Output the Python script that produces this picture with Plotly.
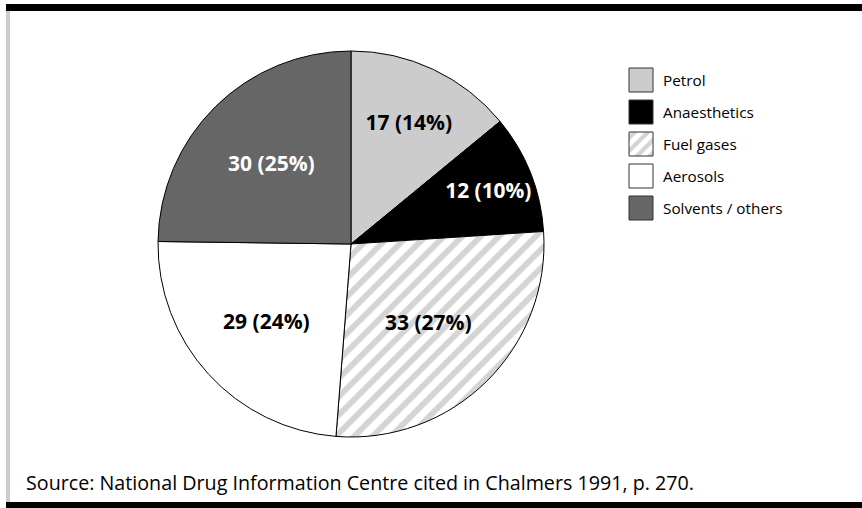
import plotly.graph_objects as go

W, H = 862, 508

categories = ["Petrol", "Anaesthetics", "Fuel gases", "Aerosols", "Solvents / others"]
values = [17, 12, 33, 29, 30]
fill_colors = ["#cccccc", "#000000", "#ffffff", "#ffffff", "#666666"]
pattern_shapes = ["", "", "/", "", ""]
label_colors = ["#000000", "#ffffff", "#000000", "#000000", "#ffffff"]
source_text = "Source: National Drug Information Centre cited in Chalmers 1991, p. 270."

FONT = "Open Sans"
HATCH = "#d4d4d4"


def px(x):
    return x / W


def py(y):
    return 1 - y / H


# pie geometry (pixels)
cx, cy, r = 351, 244, 193

fig = go.Figure()
fig.add_trace(go.Pie(
    labels=categories,
    values=values,
    sort=False,
    direction="clockwise",
    rotation=0,
    marker=dict(
        colors=fill_colors,
        line=dict(color="#000000", width=1),
        pattern=dict(shape=pattern_shapes, fgcolor=HATCH, bgcolor="#ffffff",
                     size=13, solidity=0.45, fillmode="replace"),
    ),
    texttemplate="%{value} (%{percent:.0%})",
    textposition="inside",
    insidetextorientation="horizontal",
    textfont=dict(family=FONT, size=21, color=label_colors, weight="bold"),
    hoverinfo="label+value+percent",
    showlegend=False,
    domain=dict(x=[px(cx - r), px(cx + r)], y=[py(cy + r), py(cy - r)]),
))

shapes = []
# frame
shapes.append(dict(type="rect", xref="paper", yref="paper", x0=px(6), x1=px(W), y0=py(11), y1=py(4),
                   fillcolor="#000000", line=dict(width=0), layer="above"))
shapes.append(dict(type="rect", xref="paper", yref="paper", x0=px(6), x1=px(W), y0=py(H), y1=py(502),
                   fillcolor="#000000", line=dict(width=0), layer="above"))
shapes.append(dict(type="rect", xref="paper", yref="paper", x0=px(6), x1=px(10), y0=py(502), y1=py(11),
                   fillcolor="#cccccc", line=dict(width=0), layer="above"))


def clip(poly, inside, intersect):
    out = []
    n = len(poly)
    for i in range(n):
        cur, prev = poly[i], poly[i - 1]
        if inside(cur):
            if not inside(prev):
                out.append(intersect(prev, cur))
            out.append(cur)
        elif inside(prev):
            out.append(intersect(prev, cur))
    return out


def stripe_polys(x0, y0, x1, y1, period=13, width=6, offset=3):
    polys = []
    box = [(x0, y0), (x1, y0), (x1, y1), (x0, y1)]
    a = offset - period
    umax = (x1 - x0) + (y1 - y0)

    def u(p):
        return (p[0] - x0) + (p[1] - y0)

    def mk(c, ge):
        def ins(p):
            return u(p) >= c if ge else u(p) <= c

        def inter(p, q):
            t = (c - u(p)) / (u(q) - u(p))
            return (p[0] + t * (q[0] - p[0]), p[1] + t * (q[1] - p[1]))
        return ins, inter

    while a < umax:
        poly = clip(box, *mk(a, True))
        if poly:
            poly = clip(poly, *mk(a + width, False))
        if len(poly) >= 3:
            polys.append(poly)
        a += period
    return polys


annotations = []
box_x0, box_size, first_top, pitch = 629, 24, 68, 32
for i, name in enumerate(categories):
    top = first_top + i * pitch
    bx0, by0, bx1, by1 = box_x0, top, box_x0 + box_size, top + box_size
    shapes.append(dict(type="rect", xref="paper", yref="paper",
                       x0=px(bx0), x1=px(bx1), y0=py(by1), y1=py(by0),
                       fillcolor=fill_colors[i], line=dict(width=0)))
    if pattern_shapes[i]:
        for poly in stripe_polys(bx0, by0, bx1, by1):
            path = "M" + "L".join(f"{px(x):.5f},{py(y):.5f}" for x, y in poly) + "Z"
            shapes.append(dict(type="path", xref="paper", yref="paper", path=path,
                               fillcolor=HATCH, line=dict(width=0)))
    shapes.append(dict(type="rect", xref="paper", yref="paper",
                       x0=px(bx0), x1=px(bx1), y0=py(by1), y1=py(by0),
                       fillcolor="rgba(0,0,0,0)", line=dict(color="#333333", width=1)))
    annotations.append(dict(xref="paper", yref="paper", x=px(661), y=py(top + box_size / 2),
                            text=name, showarrow=False, xanchor="left", yanchor="middle",
                            font=dict(family=FONT, size=15.3, color="#000000")))

annotations.append(dict(xref="paper", yref="paper", x=px(24), y=py(482), text=source_text,
                        showarrow=False, xanchor="left", yanchor="middle",
                        font=dict(family=FONT, size=19.7, color="#000000")))

fig.update_layout(
    width=W, height=H,
    margin=dict(l=0, r=0, t=0, b=0),
    paper_bgcolor="#ffffff",
    plot_bgcolor="#ffffff",
    shapes=shapes,
    annotations=annotations,
    showlegend=False,
    font=dict(family=FONT),
)

fig.write_html("out.html", config={"displayModeBar": False},
               post_script="document.body.style.margin='0px';")
